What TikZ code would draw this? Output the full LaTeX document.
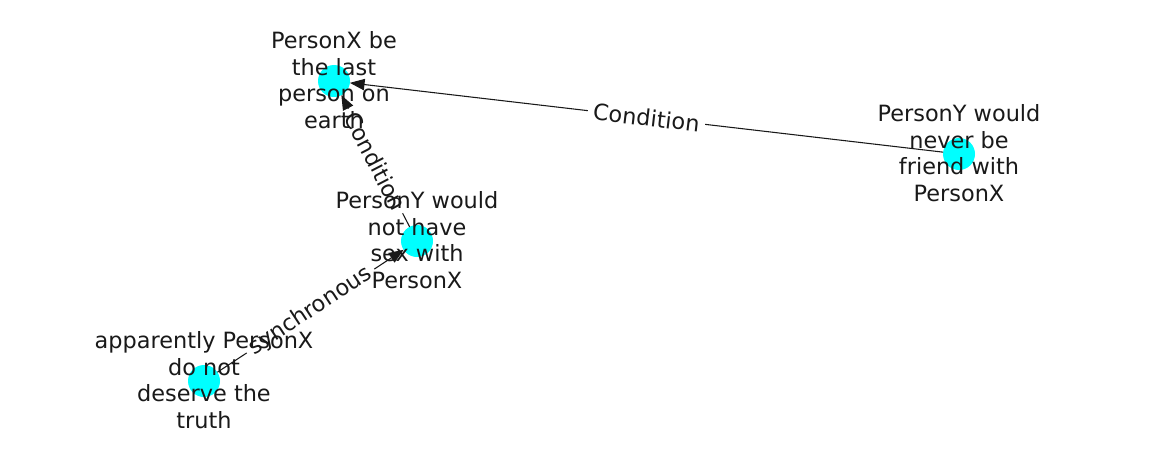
\documentclass[tikz,border=0pt]{standalone}
\usepackage{fontspec}
\setmainfont{DejaVu Sans}
\usetikzlibrary{arrows.meta}
\begin{document}
\begin{tikzpicture}[x=0.75pt,y=-0.75pt,
  dot/.style={circle,fill={rgb,255:red,0;green,255;blue,255},draw=none,
    minimum size=24pt,inner sep=0pt,outer sep=0pt},
  nodetext/.style={align=center,text=black!90,inner sep=0pt,
    font=\fontsize{16.8}{20}\selectfont},
  rel/.style={draw=black!90,line width=0.8pt,
    -{Triangle[length=11pt,width=8.5pt]}},
  edgelabel/.style={fill=white,rounded corners=3pt,inner sep=4pt,
    text=black!90,font=\fontsize{16.8}{20}\selectfont,sloped,midway}]
\useasboundingbox (0,0) rectangle (1162,462);

% event nodes
\node[dot] (earth)  at (334,81)  {};
\node[dot] (friend) at (959,154) {};
\node[dot] (sex)    at (417,241) {};
\node[dot] (truth)  at (204,381) {};

% relations with their labels
\draw[rel] (friend) -- (earth) node[edgelabel] (l1) {Condition};
\draw[rel] (sex)    -- (earth) node[edgelabel] (l2) {Condition};
\draw[rel] (truth)  -- (sex)   node[edgelabel] (l3) {synchronous};

% event texts
\node[nodetext] (tearth)  at (334,80)  {PersonX be\\the last\\person on\\earth};
\node[nodetext] (tfriend) at (959,153) {PersonY would\\never be\\friend with\\PersonX};
\node[nodetext] (tsex)    at (417,240) {PersonY would\\not have\\sex with\\PersonX};
\node[nodetext] (ttruth)  at (204,380) {apparently PersonX\\do not\\deserve the\\truth};
\end{tikzpicture}
\end{document}
